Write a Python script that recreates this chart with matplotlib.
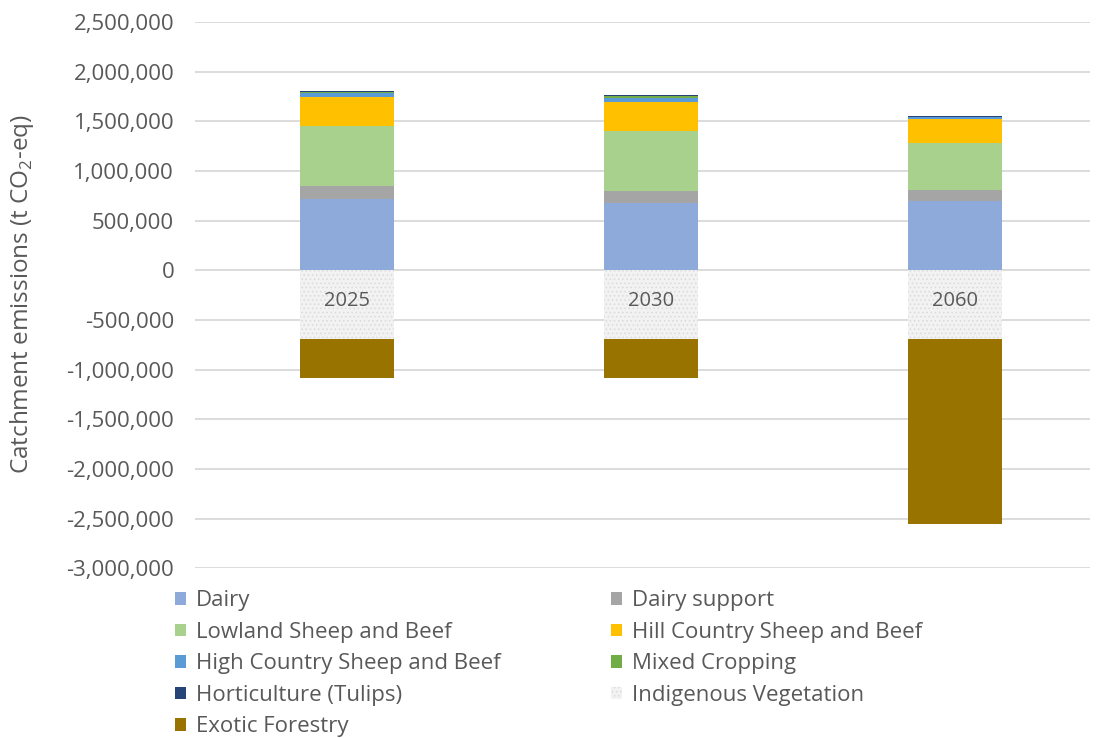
import matplotlib
matplotlib.use('Agg')
import matplotlib.pyplot as plt
import matplotlib.ticker as mticker
import numpy as np

plt.rcParams['font.family'] = ['Open Sans', 'DejaVu Sans']
plt.rcParams['mathtext.fontset'] = 'custom'
plt.rcParams['mathtext.rm'] = 'Open Sans'
plt.rcParams['hatch.color'] = '#DADADA'
plt.rcParams['hatch.linewidth'] = 0.6

# data (t CO2-eq)
years = ['2025', '2030', '2060']
dairy = [716000, 675000, 695000]
dairy_support = [131000, 121000, 111000]
lowland = [605000, 605000, 474000]
hill_country = [296000, 298000, 249000]
high_country = [41000, 40000, 12000]
mixed_cropping = [10000, 14000, 3000]
horticulture = [3000, 13000, 10000]
indigenous = [-696000, -696000, -696000]
exotic_forestry = [-383000, -383000, -1854000]

series = [
    ('Dairy', dairy, '#8EAADB'),
    ('Dairy support', dairy_support, '#A5A5A5'),
    ('Lowland Sheep and Beef', lowland, '#A9D18E'),
    ('Hill Country Sheep and Beef', hill_country, '#FFC000'),
    ('High Country Sheep and Beef', high_country, '#5B9BD5'),
    ('Mixed Cropping', mixed_cropping, '#70AD47'),
    ('Horticulture (Tulips)', horticulture, '#264478'),
    ('Indigenous Vegetation', indigenous, '#F2F2F2'),
    ('Exotic Forestry', exotic_forestry, '#997300'),
]

txt = '#595959'
fig = plt.figure(figsize=(10.97, 7.38), dpi=100)
ax = fig.add_axes([195 / 1097, 0.230, 895 / 1097, 0.740])

x = np.arange(len(years))
width = 0.31
pos_base = np.zeros(len(years))
neg_base = np.zeros(len(years))
handles = {}
for name, vals, col in series:
    vals = np.array(vals, dtype=float)
    base = np.where(vals >= 0, pos_base, neg_base)
    if name == 'Indigenous Vegetation':
        kw = dict(hatch='....', edgecolor='#DADADA', linewidth=0)
    else:
        kw = dict(linewidth=0)
    b = ax.bar(x, vals, width, bottom=base, color=col, label=name, zorder=2, **kw)
    handles[name] = b
    pos_base = pos_base + np.where(vals >= 0, vals, 0)
    neg_base = neg_base + np.where(vals < 0, vals, 0)

ax.set_xlim(-0.5, 2.444)
ax.set_ylim(-3000000, 2500000)
ax.yaxis.set_major_locator(mticker.MultipleLocator(500000))
ax.yaxis.set_major_formatter(mticker.FuncFormatter(lambda v, p: f'{v:,.0f}'))
ax.grid(True, axis='y', color='#D9D9D9', linewidth=1.3)
ax.set_axisbelow(True)

for s in ['top', 'right', 'left', 'bottom']:
    ax.spines[s].set_visible(False)

ax.set_xticks([])
ax.tick_params(axis='y', length=0, pad=15, labelsize=16, labelcolor=txt)

# category labels sit just under the zero line, over the bars
for xi, yr in zip(x, years):
    ax.annotate(yr, xy=(xi, 0), xytext=(0, -22), textcoords='offset points',
                ha='center', va='center', fontsize=14.5, color=txt, zorder=5)

fig.text(22 / 1097, 1 - 294 / 738, r'Catchment emissions (t CO$_\mathregular{2}$-eq)',
         rotation=90, ha='center', va='center', fontsize=17.5, color=txt)

# legend row-wise order, 2 columns
col1 = ['Dairy', 'Lowland Sheep and Beef', 'High Country Sheep and Beef',
        'Horticulture (Tulips)', 'Exotic Forestry']
col2 = ['Dairy support', 'Hill Country Sheep and Beef', 'Mixed Cropping',
        'Indigenous Vegetation']
order = col1 + col2
leg = fig.legend([handles[n] for n in order], order, ncol=2,
                 loc='upper left', bbox_to_anchor=(0.151, 0.212),
                 frameon=False, fontsize=16, handlelength=0.5,
                 handleheight=0.5, handletextpad=0.45, columnspacing=5.0,
                 labelspacing=0.47, labelcolor=txt, borderaxespad=0)

plt.savefig('out.png', dpi=100)
